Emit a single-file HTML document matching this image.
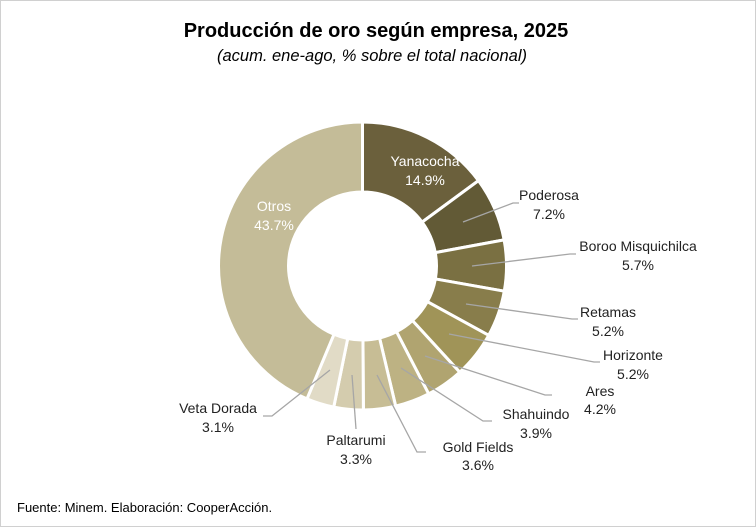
<!DOCTYPE html>
<html><head><meta charset="utf-8"><style>
body{margin:0;background:#fff}
svg{display:block;font-family:"Liberation Sans",sans-serif}
</style></head><body>
<svg id="s" width="756" height="527" viewBox="0 0 756 527">
<rect x="0.5" y="0.5" width="755" height="526" fill="#fff" stroke="#d0d0d0"/>
<text x="376" y="37" text-anchor="middle" font-size="20" font-weight="bold" fill="#000">Producción de oro según empresa, 2025</text>
<text x="372" y="61" text-anchor="middle" font-size="16.5" font-style="italic" fill="#000">(acum. ene-ago, % sobre el total nacional)</text>
<g id="d"></g>
<g stroke="#a6a6a6" stroke-width="1.3" fill="none">
<polyline points="463,222 513,203 519,203"/>
<polyline points="472,266 570,254 576,254"/>
<polyline points="466,304 572,319 578,319"/>
<polyline points="449,334 594,362 600,362"/>
<polyline points="425,356 545,395 552,395"/>
<polyline points="401,368 483,421 492,421"/>
<polyline points="377,375 417,452 426,452"/>
<polyline points="352,375 356,429"/>
<polyline points="330,370 272,416 263,416"/>
</g>
<g font-size="14" fill="#222" text-anchor="middle">
<text x="425" y="166" fill="#fff">Yanacocha</text><text x="425" y="185" fill="#fff">14.9%</text>
<text x="274" y="211" fill="#fff">Otros</text><text x="274" y="230" fill="#fff">43.7%</text>
<text x="549" y="200">Poderosa</text><text x="549" y="219">7.2%</text>
<text x="638" y="251">Boroo Misquichilca</text><text x="638" y="270">5.7%</text>
<text x="608" y="317">Retamas</text><text x="608" y="336">5.2%</text>
<text x="633" y="360">Horizonte</text><text x="633" y="379">5.2%</text>
<text x="600" y="396">Ares</text><text x="600" y="414">4.2%</text>
<text x="536" y="419">Shahuindo</text><text x="536" y="438">3.9%</text>
<text x="478" y="452">Gold Fields</text><text x="478" y="470">3.6%</text>
<text x="356" y="445">Paltarumi</text><text x="356" y="464">3.3%</text>
<text x="218" y="413">Veta Dorada</text><text x="218" y="432">3.1%</text>
</g>
<text x="17" y="512" font-size="13" fill="#000">Fuente: Minem. Elaboración: CooperAcción.</text>
</svg>
<script>
var v=[14.9,7.2,5.7,5.2,5.2,4.2,3.9,3.6,3.3,3.1,43.7];
var c=["#6b603c","#625a36","#7a7042","#887d4b","#a09458","#b0a470","#bdb283","#c7bd95","#d4ccae","#e1dbc6","#c4bc98"];
var cx=362.5,cy=266,R=144,r=74,a=0,h="";
function p(ang,rad){var t=ang/100*2*Math.PI;return (cx+rad*Math.sin(t)).toFixed(2)+","+(cy-rad*Math.cos(t)).toFixed(2);}
v.forEach(function(x,i){var b=a+x,l=x>50?1:0;
h+='<path d="M'+p(a,R)+' A'+R+','+R+' 0 '+l+' 1 '+p(b,R)+' L'+p(b,r)+' A'+r+','+r+' 0 '+l+' 0 '+p(a,r)+' Z" fill="'+c[i]+'" stroke="#fff" stroke-width="3"/>';a=b;});
document.getElementById("d").innerHTML=h;
</script>
</body></html>
